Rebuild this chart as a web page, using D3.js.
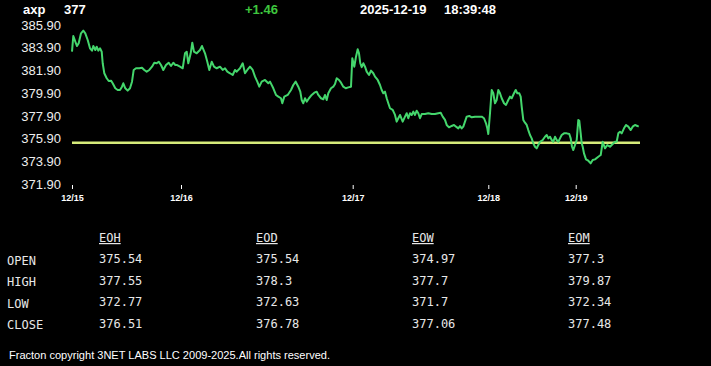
<!DOCTYPE html>
<html>
<head>
<meta charset="utf-8">
<script src="https://cdn.jsdelivr.net/npm/d3@7"></script>
<style>
  html, body { margin: 0; padding: 0; background: #000; }
  svg { display: block; }
</style>
</head>
<body>
<svg id="chart" width="711" height="366"></svg>
<script>
// header
const symbol = 'axp';
const lastPrice = '377';
const change = '+1.46';
const stamp = ['2025-12-19', '18:39:48'];

// intraday trace: position along session axis, price
const pos = [0,1.3,3.3,5,6.7,9,11.3,13.3,15.7,18,20,21.3,23.3,24.7,26.3,28,29.7,30.7,32.3,34.7,
  36.7,39,40.7,43.3,45.7,48,50,51.3,53.3,55.7,58,60,61.7,64,67.3,70,72.3,74.7,77.3,80,
  82.3,84.7,86.7,89,91.3,94,96.7,99,101.3,103.3,
  104.7,108,110.7,113,114.7,116.3,118.7,120.3,122,124.7,128,130,133,135.3,137.3,139.7,142,144.7,148,150.7,
  153,155.3,158,160.7,163,164.7,168,170.7,173,175.3,178,180.7,183,185.3,187.3,189.7,193,196.3,198,201.3,204,206.3,
  209,210.3,212.3,215.7,219,221.3,223.7,226.3,228.3,229.7,231.3,233,234.7,237,239.7,242.3,244.7,246.3,249,251.3,
  253,254.7,256.3,259,261.3,263,264.7,267,269,271.3,273.7,276.3,279,280.3,282.3,284,285.7,287,288.3,289.7,
  291.3,293,294.7,297,299,301.3,303,305.7,308,
  309.7,311.3,313,314.7,316.3,318,320.7,323,324.7,326.3,328,330.7,333,334.7,336.3,338,339.7,341.3,343,344.7,
  346.3,348,349.7,353,356.3,359.7,363,366.3,368.7,370.7,373,374.7,377,379.7,382,384,386.3,388,389.7,391.3,
  393,394.7,397.3,399.7,403,406.3,409.7,412,414,415.3,416.3,
  418,419.7,421.3,423,424.7,426.3,428,429.7,432,434,436.3,438,439.7,442,443.7,445.3,447.3,448.7,449.7,451.3,
  453,454.7,456.3,458,459.7,461.3,463,464.7,466.3,468,470.7,473,474.7,476.3,478,479.7,481.3,483,484.7,486.3,
  488,489.7,492,494.7,497.3,498.7,500,
  501.3,503,504.7,506.3,507.3,508.7,509.7,510.7,512,514,516.3,518.7,520.7,523,526.3,528.7,530.7,533,535.3,538,
  540.7,543,544.7,546.3,548,549.7,552,554,556.3,558.7,560.7,563,565.3,566.7];

const price = [383.55,384.93,384.43,384.05,384.29,385.17,385.40,385.17,384.58,383.85,
  383.64,384.05,383.70,383.99,383.64,383.85,383.55,382.53,381.65,381.21,
  380.97,381.00,380.77,380.33,380.18,380.18,380.47,380.77,380.33,380.12,
  380.33,380.91,381.94,382.09,382.09,382.14,381.94,381.79,381.94,382.23,
  382.58,382.53,382.67,382.38,381.94,382.38,382.58,382.29,382.58,382.38,
  382.38,382.23,382.09,383.41,383.55,382.53,383.41,384.34,383.55,383.41,
  383.70,384.05,383.41,382.67,381.94,382.67,382.23,382.09,382.23,381.94,
  382.09,381.79,381.65,381.50,381.94,381.79,382.09,382.53,381.65,381.94,
  382.23,381.94,381.35,380.91,380.47,380.91,381.06,380.77,380.91,380.33,
  379.74,379.59,
  379.45,379.01,379.59,379.74,380.18,380.62,380.91,380.47,380.03,379.30,
  379.01,379.45,379.15,379.45,379.74,379.94,380.03,379.74,379.45,379.36,
  379.74,379.30,379.89,380.33,380.47,380.71,381.21,381.06,380.82,380.47,
  380.33,380.41,380.47,382.97,382.23,383.11,383.76,383.41,382.53,382.18,
  382.53,382.23,381.79,381.50,381.88,381.65,381.35,381.06,380.62,
  380.18,379.89,380.03,379.45,379.01,378.57,378.42,377.98,377.39,377.69,
  377.98,377.39,377.83,378.13,377.69,378.13,377.98,378.27,377.98,378.35,
  378.13,377.69,378.06,378.06,378.13,378.06,378.06,378.13,378.18,377.83,
  377.54,377.10,376.89,377.01,377.10,376.95,376.80,377.01,376.80,376.95,
  377.39,377.83,377.89,377.77,377.83,377.83,377.83,377.69,377.24,376.80,
  376.30,
  378.13,380.18,379.89,379.01,379.30,380.18,379.89,379.45,379.01,378.86,
  379.30,379.59,379.45,379.89,380.18,379.89,379.89,379.59,378.71,377.54,
  377.30,377.10,376.65,376.21,375.92,375.48,375.18,375.04,375.33,375.62,
  375.77,376.06,376.21,375.92,376.06,375.77,375.62,376.06,375.77,375.62,
  375.92,376.21,376.36,376.36,376.30,375.92,375.18,
  374.89,375.33,375.77,377.54,377.47,376.36,375.48,375.18,374.60,374.07,
  373.95,373.72,374.01,374.07,374.30,374.45,375.62,375.04,375.33,375.18,
  375.42,375.62,375.62,376.36,376.50,376.36,376.80,377.10,376.95,376.65,
  376.95,377.10,377.01,376.95];

const posEnd = 568;
const refLevel = 375.54;          // session open line

const yTicks = [371.9, 373.9, 375.9, 377.9, 379.9, 381.9, 383.9, 385.9];
const xTickPos = [0, 109, 280.7, 416.3, 503.7];
const xTickLabels = ['12/15', '12/16', '12/17', '12/18', '12/19'];

// summary table
const rowNames = ['OPEN', 'HIGH', 'LOW', 'CLOSE'];
const colNames = ['EOH', 'EOD', 'EOW', 'EOM'];
const eoh = ['375.54', '377.55', '372.77', '376.51'];
const eod = ['375.54', '378.3', '372.63', '376.78'];
const eow = ['374.97', '377.7', '371.7', '377.06'];
const eom = ['377.3', '379.87', '372.34', '377.48'];

const footer = 'Fracton copyright 3NET LABS LLC 2009-2025.All rights reserved.';

const svg = d3.select('#chart');
svg.append('rect').attr('width', 711).attr('height', 366).attr('fill', '#000');

const sans = '"Liberation Sans", Arial, sans-serif';
const mono = '"DejaVu Sans Mono", "Liberation Mono", monospace';

// header line
const head = svg.append('g').attr('font-family', sans).attr('font-weight', 'bold').attr('font-size', 13);
head.append('text').attr('x', 23).attr('y', 13.5).attr('fill', '#fff').text(symbol);
head.append('text').attr('x', 64).attr('y', 13.5).attr('fill', '#fff').text(lastPrice);
head.append('text').attr('x', 245).attr('y', 13.5).attr('fill', '#3ec63e').text(change);
head.append('text').attr('x', 360).attr('y', 13.5).attr('fill', '#fff').text(stamp[0]);
head.append('text').attr('x', 444).attr('y', 13.5).attr('fill', '#fff').text(stamp[1]);

const x = d3.scaleLinear().domain([0, posEnd]).range([72, 640]);
const y = d3.scaleLinear().domain([371.9, 385.9]).range([184, 25]);

// y axis labels only
const yAxis = svg.append('g')
  .attr('transform', 'translate(61,0)')
  .call(d3.axisLeft(y).tickValues(yTicks).tickFormat(d3.format('.2f')).tickSize(0).tickPadding(0));
yAxis.select('.domain').remove();
yAxis.selectAll('text')
  .attr('fill', '#eee')
  .attr('font-family', sans)
  .attr('font-size', 13);

// x axis: short ticks + bold date labels
const xAxis = svg.append('g')
  .attr('transform', 'translate(0,185)')
  .call(d3.axisBottom(x).tickValues(xTickPos).tickFormat((d, i) => xTickLabels[i]).tickSize(4).tickPadding(6));
xAxis.select('.domain').remove();
xAxis.selectAll('line').attr('stroke', '#fff');
xAxis.selectAll('text')
  .attr('fill', '#fff')
  .attr('font-family', sans)
  .attr('font-weight', 'bold')
  .attr('font-size', 9);

// reference line at open
svg.append('line')
  .attr('x1', x(0)).attr('x2', x(posEnd))
  .attr('y1', y(refLevel)).attr('y2', y(refLevel))
  .attr('stroke', '#d6eb7a')
  .attr('stroke-width', 2.5);

// price trace
const pts = pos.map((p, i) => [p, price[i]]);
svg.append('path')
  .datum(pts)
  .attr('fill', 'none')
  .attr('stroke', '#44d66c')
  .attr('stroke-width', 2)
  .attr('stroke-linejoin', 'round')
  .attr('d', d3.line().x(d => x(d[0])).y(d => y(d[1])));

// table
const colX = [99, 256, 412, 568];
const cols = [eoh, eod, eow, eom];
const tbl = svg.append('g').attr('font-family', mono).attr('font-size', 12).attr('fill', '#e8e8e8');
tbl.selectAll('text.hdr').data(colNames).enter().append('text')
  .attr('class', 'hdr')
  .attr('x', (d, i) => colX[i]).attr('y', 242)
  .attr('text-decoration', 'underline')
  .text(d => d);
tbl.selectAll('text.row').data(rowNames).enter().append('text')
  .attr('class', 'row')
  .attr('x', 7).attr('y', (d, i) => 264.5 + i * 21.5)
  .text(d => d);
cols.forEach((col, c) => {
  tbl.selectAll('text.c' + c).data(col).enter().append('text')
    .attr('class', 'c' + c)
    .attr('x', colX[c]).attr('y', (d, i) => 263 + i * 21.5)
    .text(d => d);
});

// footer
svg.append('text')
  .attr('x', 9).attr('y', 359)
  .attr('fill', '#fff')
  .attr('font-family', sans)
  .attr('font-size', 11)
  .attr('textLength', 321)
  .attr('lengthAdjust', 'spacingAndGlyphs')
  .text(footer);
</script>
</body>
</html>
